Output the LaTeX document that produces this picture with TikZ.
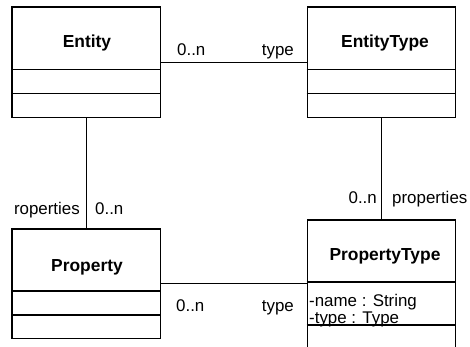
\documentclass[tikz,border=0pt]{standalone}
\usepackage{fontspec}
\setmainfont{Liberation Sans}
\begin{document}
\begin{tikzpicture}[x=1pt,y=-1pt,
  classbox/.style={draw, line width=1.1pt, rectangle, inner sep=0pt, minimum width=148.5pt},
  sepline/.style={line width=1.1pt},
  conn/.style={line width=0.9pt},
  lbl/.style={inner sep=0pt, font=\fontsize{16.9}{19}\selectfont},
  ttl/.style={inner sep=0pt, font=\fontsize{17.4}{20}\selectfont\bfseries}]
\useasboundingbox (0,0) rectangle (470,347);
\clip (0,0) rectangle (470,347);
% class boxes
\node[classbox, minimum height=110.5pt] (entity) at (86.25,62.25) {};
\node[classbox, minimum height=110.5pt] (etype) at (381.5,62.25) {};
\node[classbox, minimum height=109.5pt] (property) at (86.25,283.75) {};
\node[classbox, minimum height=127.5pt] (ptype) at (381.5,283.75) {};
% compartments
\draw[sepline] ([yshift=-63.5pt]entity.north west) -- ([yshift=-63.5pt]entity.north east);
\draw[sepline] ([yshift=-87pt]entity.north west) -- ([yshift=-87pt]entity.north east);
\draw[sepline] ([yshift=-63.5pt]etype.north west) -- ([yshift=-63.5pt]etype.north east);
\draw[sepline] ([yshift=-87pt]etype.north west) -- ([yshift=-87pt]etype.north east);
\draw[sepline] ([yshift=-62.5pt]property.north west) -- ([yshift=-62.5pt]property.north east);
\draw[sepline] ([yshift=-86.5pt]property.north west) -- ([yshift=-86.5pt]property.north east);
\draw[sepline] ([yshift=-62.5pt]ptype.north west) -- ([yshift=-62.5pt]ptype.north east);
\draw[sepline] ([yshift=-105.5pt]ptype.north west) -- ([yshift=-105.5pt]ptype.north east);
% titles
\node[ttl, anchor=base] (entityname) at (87,48) {Entity};
\node[ttl, anchor=base] (etypename) at (385,48) {EntityType};
\node[ttl, anchor=base] (propertyname) at (87,271) {Property};
\node[ttl, anchor=base] (ptypename) at (385,260) {PropertyType};
% attributes
\node[lbl, anchor=base west] (a1) at (309,306) {-name : String};
\node[lbl, anchor=base west] (a2) at (309,323) {-type : Type};
% connectors
\draw[conn] (entity) -- (etype);
\draw[conn] (entity) -- (property);
\draw[conn] (etype) -- (ptype);
\draw[conn] (property) -- (ptype);
% role labels
\node[lbl, anchor=base west] (l1) at (177,55.5) {0..n};
\node[lbl, anchor=base east] (l2) at (294,55.5) {type};
\node[lbl, anchor=base east] (l3) at (80,214) {roperties};
\node[lbl, anchor=base west] (l4) at (95,214) {0..n};
\node[lbl, anchor=base east] (l5) at (377,203.5) {0..n};
\node[lbl, anchor=base west] (l6) at (392,203.5) {properties};
\node[lbl, anchor=base west] (l7) at (176,311.5) {0..n};
\node[lbl, anchor=base east] (l8) at (294,311.5) {type};
\end{tikzpicture}
\end{document}
